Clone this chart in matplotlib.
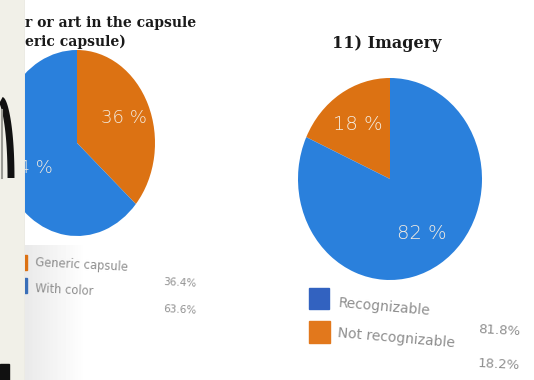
import numpy as np
import matplotlib
matplotlib.use("Agg")
import matplotlib.pyplot as plt
from matplotlib.patches import Rectangle

W, H = 534, 380

# capsule colour / art
capsule_labels = ["Generic capsule", "With color"]
capsule_values = [36.4, 63.6]
capsule_text = ["36.4%", "63.6%"]

# 11) imagery
imagery_labels = ["Recognizable", "Not recognizable"]
imagery_values = [81.8, 18.2]
imagery_text = ["81.8%", "18.2%"]

BLUE = "#2a80dc"
ORANGE = "#dc7213"

fig = plt.figure(figsize=(W / 100, H / 100), dpi=100)
fig.patch.set_facecolor("white")

# page layer, pixel coordinates
bg = fig.add_axes([0, 0, 1, 1])
bg.axis("off")

# soft shadow on the page near the fold
grad = np.linspace(0.86, 1.0, 60)[None, :] * np.ones((10, 1))
bg.imshow(grad, extent=(25, 85, 380, 245), cmap="gray", vmin=0, vmax=1,
          aspect="auto", alpha=0.6, zorder=0)
bg.set_xlim(0, W)
bg.set_ylim(H, 0)

serif = ["DejaVu Serif"]
bg.text(25, 23, "r or art in the capsule", family=serif, weight="bold",
        fontsize=10, va="center", ha="left", color="#1a1a1a")
bg.text(25, 42, "eric capsule)", family=serif, weight="bold",
        fontsize=10, va="center", ha="left", color="#1a1a1a")
bg.text(387, 43, "11) Imagery", family=serif, weight="bold",
        fontsize=11.5, va="center", ha="center", color="#1a1a1a")


def pie_axes(cx, cy, rx, ry):
    ax = fig.add_axes([(cx - rx) / W, 1 - (cy + ry) / H, 2 * rx / W, 2 * ry / H])
    return ax


def finish(ax):
    ax.set_aspect("auto")
    ax.set_xlim(-1, 1)
    ax.set_ylim(-1, 1)
    ax.axis("off")


pct_style = dict(color="#f4ece0", fontsize=13, family="DejaVu Sans",
                 weight="light")

# left pie, orange runs clockwise from 12 o'clock
ax1 = pie_axes(77, 143, 78, 93)
ax1.pie(capsule_values, colors=[ORANGE, BLUE], startangle=90,
        counterclock=False, radius=1, autopct=lambda p: f"{p:.0f} %",
        pctdistance=0.66, textprops=pct_style)
finish(ax1)

# right pie, orange runs anticlockwise from 12 o'clock
ax2 = pie_axes(390, 179, 92, 101)
ax2.pie(imagery_values[::-1], colors=[ORANGE, BLUE], startangle=90,
        counterclock=True, radius=1, autopct=lambda p: f"{p:.0f} %",
        pctdistance=0.64, textprops=dict(pct_style, fontsize=14))
finish(ax2)

# legends
grey = "#8e8e8e"
bg.add_patch(Rectangle((24, 255), 3, 15, color=ORANGE, zorder=3))
bg.add_patch(Rectangle((24, 278), 3, 15, color="#3a6fb8", zorder=3))
bg.text(35, 263, capsule_labels[0], fontsize=8.3, color=grey, va="center",
        rotation=-3, rotation_mode="anchor")
bg.text(35, 289, capsule_labels[1], fontsize=8.3, color=grey, va="center",
        rotation=-3, rotation_mode="anchor")
bg.text(163, 282, capsule_text[0], fontsize=7.5, color=grey, va="center",
        rotation=-3, rotation_mode="anchor")
bg.text(163, 309, capsule_text[1], fontsize=7.5, color=grey, va="center",
        rotation=-3, rotation_mode="anchor")

bg.add_patch(Rectangle((309, 288), 20, 21, color="#3262c0", zorder=3))
bg.add_patch(Rectangle((309, 321), 21, 22, color="#e2781c", zorder=3))
bg.text(338, 303, imagery_labels[0], fontsize=10, color=grey, va="center",
        rotation=-5, rotation_mode="anchor")
bg.text(338, 333, imagery_labels[1], fontsize=10, color=grey, va="center",
        rotation=-5, rotation_mode="anchor")
bg.text(478, 330, imagery_text[0], fontsize=9.5, color=grey, va="center",
        rotation=-3, rotation_mode="anchor")
bg.text(478, 364, imagery_text[1], fontsize=9.5, color=grey, va="center",
        rotation=-3, rotation_mode="anchor")

# strip on the left edge with the dark arch
strip = fig.add_axes([0, 0, 25 / W, 1])
strip.set_xlim(0, 25)
strip.set_ylim(H, 0)
strip.set_facecolor("#f1f0e8")
for s in strip.spines.values():
    s.set_visible(False)
strip.set_xticks([])
strip.set_yticks([])
t = np.linspace(0, 1, 40)
arch_x = 1 + 10 * np.sin(t * np.pi / 2)
arch_y = 100 + 78 * t ** 1.6
strip.plot(arch_x, arch_y, color="#111111", lw=5, solid_capstyle="butt")
strip.plot([2, 2], [110, 178], color="#9a9a94", lw=1.5)
strip.add_patch(Rectangle((0, 364), 9, 16, color="#111111"))
strip.axvline(24.5, color="#d8d8d4", lw=1)

fig.savefig("out.png", dpi=100, facecolor=fig.get_facecolor())
